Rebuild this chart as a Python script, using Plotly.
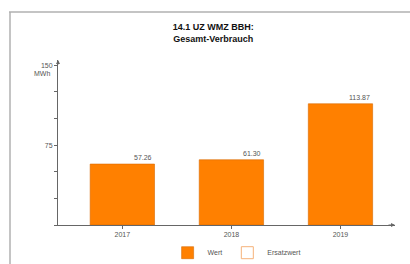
import plotly.graph_objects as go

years = ["2017", "2018", "2019"]
wert = [57.26, 61.30, 113.87]
labels = ["57.26", "61.30", "113.87"]
tick_vals = [0, 25, 50, 75, 100, 125, 150]
tick_text = ["", "", "", "75", "", "", "150"]

W, H = 410, 264
L, R, T, B = 58, 15, 60, 39
pw, ph = W - L - R, H - T - B

def px(x):
    return (x - L) / pw

def py(y):
    return (H - B - y) / ph

orange = "#FF8000"
font = "Liberation Sans, Arial, sans-serif"

fig = go.Figure()
fig.add_trace(go.Bar(x=[0, 1, 2], y=wert, name="Wert", width=0.59,
                     marker=dict(color=orange, line=dict(color="#d96a00", width=0.6))))
fig.add_trace(go.Bar(x=[0, 1, 2], y=[None, None, None], name="Ersatzwert", width=0.59,
                     marker=dict(color="white", line=dict(color="#f5b27a", width=1))))

for i, (v, t) in enumerate(zip(wert, labels)):
    fig.add_annotation(x=i + 0.29, y=v, text=t, showarrow=False, xanchor="right",
                       yanchor="bottom", yshift=1, font=dict(size=7, color="#555", family=font))

fig.add_annotation(xref="paper", yref="y", x=0, y=150, text="MWh", showarrow=False,
                   xanchor="right", yanchor="top", xshift=-6, yshift=-3,
                   font=dict(size=7, color="#555", family=font))

# x axis arrow
fig.add_annotation(x=2.5, y=0, ax=-8, ay=0, showarrow=True, arrowhead=2, arrowsize=0.8,
                   arrowwidth=1, arrowcolor="#666", text="")
# y axis arrow
fig.add_annotation(xref="paper", x=0, y=155, ax=0, ay=6, showarrow=True, arrowhead=2,
                   arrowsize=0.8, arrowwidth=1, arrowcolor="#666", text="")

# panel frame
fig.add_shape(type="line", xref="paper", yref="paper", x0=px(10), x1=px(10), y0=py(12), y1=py(264),
              line=dict(color="#b0b0b0", width=1.5))
fig.add_shape(type="line", xref="paper", yref="paper", x0=px(9), x1=px(410), y0=py(12), y1=py(12),
              line=dict(color="#b0b0b0", width=1.5))

fig.update_layout(
    width=W, height=H,
    margin=dict(l=L, r=R, t=T, b=B, autoexpand=False),
    paper_bgcolor="white", plot_bgcolor="white",
    font=dict(family=font, size=7, color="#555"),
    title=dict(text="<b>14.1 UZ WMZ BBH:<br>Gesamt-Verbrauch</b>", x=0.52, xanchor="center",
               y=0.887, yanchor="top", font=dict(size=9, color="#111", family=font)),
    showlegend=True,
    barmode="overlay",
    legend=dict(orientation="h", x=0.53, xanchor="center", y=-0.08, yanchor="top",
                font=dict(size=7, color="#555", family=font), itemwidth=30),
)
fig.update_xaxes(range=[-0.59, 2.5], tickmode="array", tickvals=[0, 1, 2], ticktext=years,
                 showline=True, linecolor="#666", linewidth=1, ticks="outside", ticklen=3,
                 tickcolor="#666", showgrid=False, zeroline=False, fixedrange=True)
fig.update_yaxes(range=[0, 155], tickmode="array", tickvals=tick_vals, ticktext=tick_text,
                 showline=True, linecolor="#666", linewidth=1, ticks="outside", ticklen=3,
                 tickcolor="#666", showgrid=False, zeroline=False, fixedrange=True)

fig.write_html("out.html", config={"displayModeBar": False},
               post_script="document.body.style.margin='0';")
